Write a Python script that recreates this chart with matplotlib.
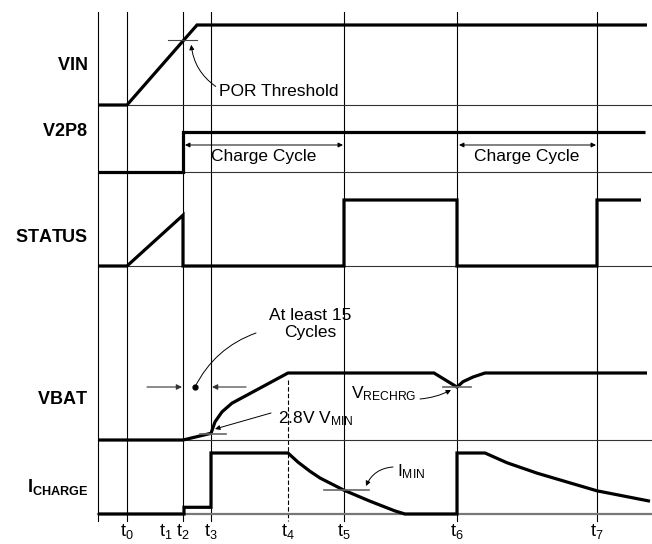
import matplotlib
matplotlib.use("Agg")
import matplotlib.pyplot as plt

plt.rcParams['font.family'] = ['Liberation Sans', 'DejaVu Sans']
plt.rcParams['mathtext.fontset'] = 'custom'
plt.rcParams['mathtext.rm'] = 'Liberation Sans'
plt.rcParams['mathtext.it'] = 'Liberation Sans'
plt.rcParams['mathtext.bf'] = 'Liberation Sans:bold'

# time events (x in time units)
t_names = ['0', '1', '2', '3', '4', '5', '6', '7']
t_pos = [127, 166, 183, 211, 288, 344, 457, 597]
t_start = 98
t_end = 652

# signal rows: label, baseline, amplitude of a level of 1
row_labels = [r'$\mathbf{VIN}$', r'$\mathbf{V2P8}$', r'$\mathbf{STATUS}$',
              r'$\mathbf{VBAT}$', r'$\mathbf{I_{CHARGE}}$']
row_base = [105, 172, 266, 440, 514]
row_amp = [80, 40, 66, 67, 61]
label_y = [65, 132, 238, 400, 487]

# waveforms, (time, level)
vin_t = [98, 127, 197, 647]
vin_v = [0, 0, 1, 1]

v2p8_t = [98, 183, 183, 645]
v2p8_v = [0, 0, 1, 1]

status_t = [98, 127, 183, 183, 344, 344, 457, 457, 597, 597, 641]
status_v = [0, 0, 0.77, 0, 0, 1, 1, 0, 0, 1, 1]

vbat_t = [98, 183, 211, 215, 222, 232, 247, 288, 434, 457, 463, 473, 485, 647]
vbat_v = [0, 0, 0.10, 0.27, 0.42, 0.55, 0.67, 1, 1, 0.79, 0.87, 0.94, 1, 1]

ich_t = [98, 184, 184, 211, 211, 288, 298, 310, 320, 344, 370, 395, 405,
         457, 457, 485, 507, 537, 570, 597, 650]
ich_v = [0, 0, 0.11, 0.11, 1, 1, 0.85, 0.70, 0.59, 0.39, 0.21, 0.05, 0,
         0, 1, 1, 0.84, 0.67, 0.51, 0.38, 0.21]

signals = [(vin_t, vin_v), (v2p8_t, v2p8_v), (status_t, status_v),
           (vbat_t, vbat_v), (ich_t, ich_v)]


def lvl(row, v):
    return row_base[row] - row_amp[row] * v


fig = plt.figure(figsize=(6.52, 5.44), dpi=100)
ax = fig.add_axes([0, 0, 1, 1])
ax.set_xlim(0, 652)
ax.set_ylim(544, 0)
ax.axis('off')

grid_top = 12
grid_bot = 521
thin = 0.8
thick = 2.3

# vertical grid lines
ax.plot([t_start, t_start], [grid_top, grid_bot], color='black', lw=thin)
for name, x in zip(t_names, t_pos):
    if name == '4':
        ax.plot([x, x], [380, grid_bot], color='black', lw=thin, ls=(0, (4, 2)))
    elif name != '1':
        ax.plot([x, x], [grid_top, grid_bot], color='black', lw=thin)
    ax.text(x, 536, r'$\mathrm{t}_{' + name + '}$', ha='center', va='baseline', fontsize=13)

# baselines
for i, b in enumerate(row_base):
    if i == 4:
        ax.plot([t_start, t_end], [b, b], color='#777777', lw=1.6)
    else:
        ax.plot([t_start, t_end], [b, b], color='#333333', lw=thin)

# waveforms
for i, (ts, vs) in enumerate(signals):
    ax.plot(ts, [lvl(i, v) for v in vs], color='black', lw=thick,
            solid_joinstyle='miter', solid_capstyle='butt')

# row labels
for lab, y in zip(row_labels, label_y):
    ax.text(88, y, lab, ha='right', va='center', fontsize=13)

# POR threshold
ax.plot([168, 197], [lvl(0, 0.81)] * 2, color='#444444', lw=thin)
ax.annotate('', xy=(191, 42), xytext=(218, 88),
            arrowprops=dict(arrowstyle='-|>', color='black', lw=0.7,
                            mutation_scale=7,
                            connectionstyle='arc3,rad=-0.25'))
ax.text(219, 91, 'POR Threshold', ha='left', va='center', fontsize=12.5)

# charge cycles
cycles = [(t_pos[2], t_pos[5]), (t_pos[6], t_pos[7])]
for a, b in cycles:
    ax.annotate('', xy=(b - 1, 145), xytext=(a + 2, 145),
                arrowprops=dict(arrowstyle='<|-|>', color='black', lw=0.7,
                                mutation_scale=7, shrinkA=0, shrinkB=0))
    ax.text((a + b) / 2, 157, 'Charge Cycle', ha='center', va='center', fontsize=12.5)

# at least 15 cycles
ax.annotate('', xy=(t_pos[2] - 1, 387), xytext=(147, 387),
            arrowprops=dict(arrowstyle='-|>', color='#333333', lw=0.8,
                            mutation_scale=8, shrinkA=0, shrinkB=0))
ax.annotate('', xy=(t_pos[3] + 1, 387), xytext=(246, 387),
            arrowprops=dict(arrowstyle='-|>', color='#333333', lw=0.8,
                            mutation_scale=8, shrinkA=0, shrinkB=0))
ax.plot([195], [387], 'o', color='black', ms=3.5)
ax.annotate('', xy=(195, 387), xytext=(256, 333),
            arrowprops=dict(arrowstyle='-', color='black', lw=0.7,
                            connectionstyle='arc3,rad=0.2', shrinkA=0, shrinkB=0))
ax.text(310, 324, 'At least 15\nCycles', ha='center', va='center',
        fontsize=12.5, linespacing=1.1)

# VMIN
ax.plot([200, 226], [434, 434], color='#666666', lw=1.2)
ax.annotate('', xy=(215, 429), xytext=(271, 413),
            arrowprops=dict(arrowstyle='-|>', color='black', lw=0.7,
                            mutation_scale=7, shrinkA=0, shrinkB=0))
ax.text(278, 419, r'2.8V V$_{\mathrm{MIN}}$', ha='left', va='center', fontsize=12.5)

# VRECHRG
ax.plot([443, 471], [lvl(3, 0.79)] * 2, color='#666666', lw=1.2)
ax.annotate('', xy=(451, 390), xytext=(420, 399),
            arrowprops=dict(arrowstyle='-|>', color='black', lw=0.7,
                            mutation_scale=7, shrinkA=0, shrinkB=0,
                            connectionstyle='arc3,rad=0.1'))
ax.text(416, 394, r'V$_{\mathrm{RECHRG}}$', ha='right', va='center', fontsize=12.5)

# IMIN
ax.plot([324, 369], [lvl(4, 0.39)] * 2, color='#666666', lw=1.2)
ax.annotate('', xy=(366, 486), xytext=(393, 467),
            arrowprops=dict(arrowstyle='-|>', color='black', lw=0.7,
                            mutation_scale=7, shrinkA=0, shrinkB=0,
                            connectionstyle='arc3,rad=0.3'))
ax.text(397, 472, r'I$_{\mathrm{MIN}}$', ha='left', va='center', fontsize=12.5)

fig.savefig('out.png', dpi=100)
